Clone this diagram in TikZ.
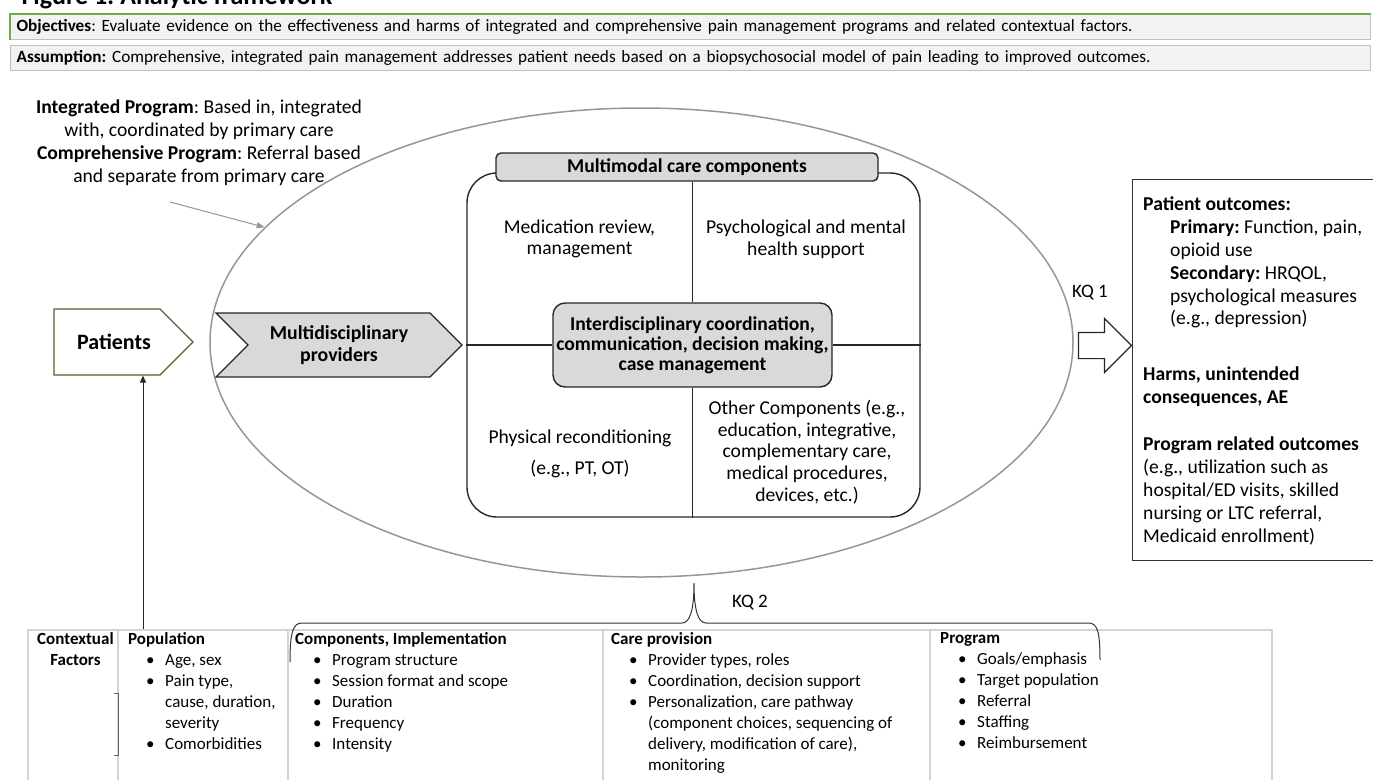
\documentclass[tikz,border=0pt]{standalone}
\usepackage{fontspec}
\setmainfont{Carlito}
\usepackage{xcolor}
\usetikzlibrary{arrows.meta, positioning, calc, shapes.geometric, shapes.symbols, shapes.arrows}

\definecolor{boxgray}{HTML}{D9D9D9}
\definecolor{ringgray}{HTML}{969696}
\definecolor{cellgray}{HTML}{D4D4D4}
\definecolor{barfill}{HTML}{F2F2F2}
\definecolor{barline}{HTML}{BFBFBF}
\definecolor{bargreen}{HTML}{70AD47}
\definecolor{patgreen}{HTML}{4F6228}

\newcommand{\bul}{\hspace*{18pt}\makebox[19pt][l]{\textbullet}}
\newcommand{\cont}{\hspace*{37pt}}
\frenchspacing

\begin{document}
\begin{tikzpicture}[x=1pt, y=-1pt, >={Triangle[length=7pt, width=6pt]},
  bigtext/.style={font=\fontsize{19.6}{21.7}\selectfont},
  smalltext/.style={font=\fontsize{17}{21}\selectfont}]
% Define styles for boxes, labels and table cells
\tikzstyle{bar} = [draw=barline, fill=barfill, line width=1.2pt, minimum width=1360pt, minimum height=25pt, text width=1348pt, inner xsep=6pt, inner ysep=0pt, align=left, font=\fontsize{17.2}{19}\selectfont]
\tikzstyle{frame} = [draw=black!85, line width=1.4pt]
\tikzstyle{graybox} = [frame, fill=boxgray, align=center, inner sep=0pt, bigtext, font=\fontsize{19.6}{20}\selectfont\bfseries]
\tikzstyle{quad} = [align=center, inner sep=0pt, bigtext]
\tikzstyle{kqlabel} = [inner sep=0pt, font=\fontsize{19}{21}\selectfont]
\tikzstyle{cell} = [anchor=north west, align=left, inner sep=0pt, smalltext]
\tikzstyle{tableline} = [draw=cellgray, line width=1.3pt]
\tikzstyle{outtext} = [anchor=north west, align=left, inner sep=0pt, font=\fontsize{19.6}{22.8}\selectfont]

\useasboundingbox (0,0) rectangle (1373,780);

% Nodes placement
\node[anchor=base west, font=\fontsize{26}{30}\selectfont\bfseries] (title) at (18,4) {Figure 1: Analytic framework};
\node[bar, anchor=north west] (objbar) at (10,14) {\textbf{Objectives}: Evaluate evidence on the effectiveness and harms of integrated and comprehensive pain management programs and related contextual factors.};
\node[bar, below=5pt of objbar] (assbar) {\textbf{Assumption:} Comprehensive, integrated pain management addresses patient needs based on a biopsychosocial model of pain leading to improved outcomes.};

\node[align=center, inner sep=0pt, font=\fontsize{19.6}{23}\selectfont] (defs) at (199,143) {\textbf{Integrated Program}: Based in, integrated\\ with, coordinated by primary care\\ \textbf{Comprehensive Program}: Referral based\\ and separate from primary care};
\coordinate (defsarrow) at (170,202);

\node[ellipse, draw=ringgray, line width=1.5pt, minimum width=863pt, minimum height=469pt, inner sep=0pt] (prog) at (641.5,342.5) {};
\node[frame, rectangle, rounded corners=30pt, minimum width=453pt, minimum height=344pt, inner sep=0pt] (mm) at (693.5,345) {};
\node[graybox, rounded corners=5pt, minimum width=382pt, minimum height=28pt] (hdr) at (687,167) {Multimodal care components};
\node[graybox, rounded corners=12pt, minimum width=279pt, minimum height=84pt] (ctr) at (692.5,345) {Interdisciplinary coordination,\\ communication, decision making,\\ case management};

\node[quad] (medrev) at (579.5,239) {Medication review,\\ management};
\node[quad] (psych) at (806,239) {Psychological and mental\\ health support};
\node[quad] (phys) at (580,454) {Physical reconditioning\\[10pt] (e.g., PT, OT)};
\node[quad] (other) at (807,452) {Other Components (e.g.,\\ education, integrative,\\ complementary care,\\ medical procedures,\\ devices, etc.)};

\node[signal, signal to=east, signal pointer angle=90, draw=patgreen, fill=white, line width=1.2pt, minimum width=139pt, minimum height=66pt, inner sep=0pt, font=\fontsize{22}{24}\selectfont\bfseries] (patients) at (107,342) {\hspace*{14pt}Patients};
\node[signal, signal from=west, signal to=east, signal pointer angle=90, draw=black!85, fill=boxgray, line width=1.2pt, minimum width=246pt, minimum height=64pt, inner sep=0pt, align=center, font=\fontsize{19.8}{22}\selectfont\bfseries] (provs) at (339,345) {Multidisciplinary\\ providers};

\node[draw=black!80, line width=1.4pt, minimum width=260pt, minimum height=381pt, anchor=north west, inner sep=0pt] (outcomes) at (1132,179) {};
\node[single arrow, draw=black!85, fill=white, line width=1.2pt, minimum width=53pt, minimum height=53pt, single arrow head extend=14pt, inner xsep=0pt, inner ysep=12.5pt] (kqarrow) at (1098.5,345.5) {};
\node[kqlabel] (kq1) at (1090,293) {KQ 1};

\node[outtext] (poc) at (1143,197) {\textbf{Patient outcomes:}\\ \hspace*{27pt}\textbf{Primary:} Function, pain,\\ \hspace*{27pt}opioid use\\ \hspace*{27pt}\textbf{Secondary:} HRQOL,\\ \hspace*{27pt}psychological measures\\ \hspace*{27pt}(e.g., depression)};
\node[outtext] (harms) at (1143,367) {\textbf{Harms, unintended}\\ \textbf{consequences, AE}};
\node[outtext] (progout) at (1143,437) {\textbf{Program related outcomes}\\ (e.g., utilization such as\\ hospital/ED visits, skilled\\ nursing or LTC referral,\\ Medicaid enrollment)};

% Table of contextual factors
\node[cell, align=center, font=\fontsize{17}{21}\selectfont\bfseries] (ctx) at (37,632) {Contextual\\ Factors};
\node[cell] (pop) at (128,632) {\textbf{Population}\\ \bul Age, sex\\ \bul Pain type,\\ \cont cause, duration,\\ \cont severity\\ \bul Comorbidities};
\node[cell] (comp) at (295,632) {\textbf{Components, Implementation}\\ \bul Program structure\\ \bul Session format and scope\\ \bul Duration\\ \bul Frequency\\ \bul Intensity};
\node[cell] (care) at (611,632) {\textbf{Care provision}\\ \bul Provider types, roles\\ \bul Coordination, decision support\\ \bul Personalization, care pathway\\ \cont (component choices, sequencing of\\ \cont delivery, modification of care),\\ \cont monitoring};
\node[cell] (progctx) at (940,632) {\textbf{Program}\\ \bul Goals/emphasis\\ \bul Target population\\ \bul Referral\\ \bul Staffing\\ \bul Reimbursement};

\node[kqlabel] (kq2) at (750,603) {KQ 2};
\coordinate (kqtip) at (694,583);
\coordinate (braceL) at (290,662);
\coordinate (braceR) at (1100,660);
\coordinate (ctxup) at (143,630);

% Draw edges
\draw[bargreen, line width=1.5pt] (objbar.south west) -- (objbar.north west) -- (objbar.north east);
\draw[ringgray, line width=1pt, ->, >={Triangle[length=8pt, width=6pt]}] (defsarrow) -- (prog.163);
\draw[frame] (hdr.south -| ctr.north) -- (ctr.north);
\draw[frame] (ctr.south) -- (ctr.south |- mm.south);
\draw[frame] (mm.west) -- (ctr.west);
\draw[frame] (ctr.east) -- (mm.east);
\draw[black!85, line width=1pt, ->] (ctxup) -- (ctxup |- patients.south);

% Table lines
\draw[tableline] (28,780) -- (28,630) -- (1272,630) -- (1272,780);
\foreach \x in {118,288,603,930}
  \draw[tableline] (\x,630) -- (\x,780);
\draw[black!60, line width=1pt] (114,693) -- (118,693) -- (118,755) -- (114,755);

% Brace for KQ 2
\draw[black!80, line width=1pt] (braceL) .. controls (290,632) and (293,623) .. (302,623) -- (682,623) .. controls (690,623) and (694,610) .. (kqtip) .. controls (694,610) and (698,623) .. (706,623) -- (1088,623) .. controls (1097,623) and (1100,630) .. (braceR);

\end{tikzpicture}
\end{document}
